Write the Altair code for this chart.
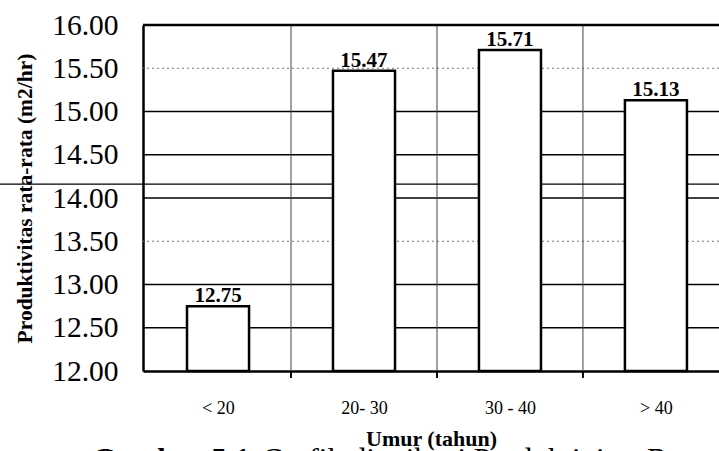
import altair as alt
import pandas as pd

categories = ["< 20", "20- 30", "30 - 40", "> 40"]
values = [12.75, 15.47, 15.71, 15.13]
value_labels = ["12.75", "15.47", "15.71", "15.13"]
y_ticks = [12.0, 12.5, 13.0, 13.5, 14.0, 14.5, 15.0, 15.5, 16.0]
solid_grid = [12.5, 13.0, 14.0, 14.5, 15.0]
dotted_grid = [13.5, 15.5]
boundaries = [0.5, 1.5, 2.5]
artifact_line = [14.16]
caption_bold = "Gambar 5.1"
caption_rest = "Grafik distribusi Produktivitas Rata"
x_title = "Umur (tahun)"
y_title = "Produktivitas rata-rata (m2/hr)"

W, H = 576, 346
HALF = 0.2125
FONT = "Liberation Serif"

df = pd.DataFrame({"idx": list(range(len(categories))), "cat": categories,
                   "val": values, "lab": value_labels})

xscale = alt.Scale(domain=[-0.514, 3.432], nice=False, zero=False)
yscale = alt.Scale(domain=[12, 16], nice=False, zero=False)

label_expr = "[" + ",".join("'" + c + "'" for c in categories) + "][datum.value]"

bars = alt.Chart(df).transform_calculate(
    x1=f"datum.idx - {HALF}", x2=f"datum.idx + {HALF}", base="12"
).mark_bar(fill="white", stroke="black", strokeWidth=2.5).encode(
    x=alt.X("x1:Q", scale=xscale, title=x_title,
            axis=alt.Axis(values=[0, 1, 2, 3], labelExpr=label_expr, grid=False,
                          ticks=False, labelPadding=28, labelFontSize=18,
                          labelFont=FONT, labelColor="black",
                          domainColor="black", domainWidth=2.5,
                          titleFont=FONT, titleFontSize=22, titleFontWeight="bold",
                          titlePadding=11, titleColor="black")),
    x2="x2:Q",
    y=alt.Y("val:Q", scale=yscale, title=y_title,
            axis=alt.Axis(values=y_ticks, format=".2f", grid=False, ticks=False,
                          labelPadding=25, labelFontSize=29.5, labelFont=FONT,
                          labelColor="black", domainColor="black", domainWidth=2.5,
                          titleFont=FONT, titleFontSize=21.5, titleFontWeight="bold",
                          titlePadding=15, titleColor="black")),
    y2="base:Q",
)

texts = alt.Chart(df).mark_text(font=FONT, fontSize=21, fontWeight="bold",
                                baseline="alphabetic", dy=-4, color="black").encode(
    x=alt.X("idx:Q", scale=xscale), y=alt.Y("val:Q", scale=yscale), text="lab:N")

grid_solid = alt.Chart(pd.DataFrame({"g": solid_grid})).mark_rule(
    color="black", strokeWidth=1.3).encode(y=alt.Y("g:Q", scale=yscale))
grid_dot = alt.Chart(pd.DataFrame({"g": dotted_grid})).mark_rule(
    color="#777777", strokeWidth=1, strokeDash=[2, 3]).encode(y=alt.Y("g:Q", scale=yscale))
top_border = alt.Chart(pd.DataFrame({"g": [16.0]})).mark_rule(
    color="black", strokeWidth=2.5).encode(y=alt.Y("g:Q", scale=yscale))

vgrid = alt.Chart(pd.DataFrame({"b": boundaries})).mark_rule(
    color="#444444", strokeWidth=1).encode(
    x=alt.X("b:Q", scale=xscale), y=alt.datum(16), y2=alt.datum(12))
vticks = alt.Chart(pd.DataFrame({"b": boundaries})).mark_rule(
    color="black", strokeWidth=2, clip=False).encode(
    x=alt.X("b:Q", scale=xscale), y=alt.datum(12), y2=alt.datum(11.92))

artifact = alt.Chart(pd.DataFrame({"g": artifact_line})).mark_rule(
    color="black", strokeWidth=1.3, clip=False).encode(
    y=alt.Y("g:Q", scale=yscale), x=alt.value(-143), x2=alt.value(W))

cap1 = alt.Chart(pd.DataFrame({"t": [caption_bold]})).mark_text(
    font=FONT, fontSize=31, fontWeight="bold", align="left", baseline="alphabetic",
    color="black").encode(x=alt.value(-51), y=alt.value(445), text="t:N")
cap2 = alt.Chart(pd.DataFrame({"t": [caption_rest]})).mark_text(
    font=FONT, fontSize=31, align="left", baseline="alphabetic",
    color="black").encode(x=alt.value(119), y=alt.value(445), text="t:N")

chart = alt.layer(grid_solid, grid_dot, vgrid, artifact, bars, top_border, vticks,
                  texts, cap1, cap2).properties(
    width=W, height=H,
    autosize=alt.AutoSizeParams(type="none"),
    padding={"left": 143, "top": 25, "right": 0, "bottom": 80},
).configure_view(stroke=None).configure(background="white")

chart.save("out.html", embed_options={"renderer": "svg", "actions": False})
